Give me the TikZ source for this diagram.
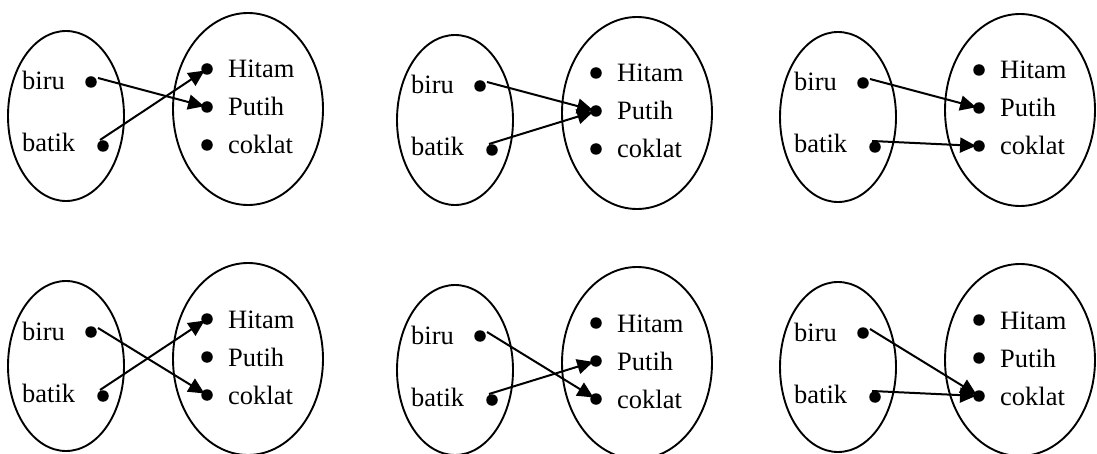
\documentclass[tikz,border=0pt]{standalone}
\usepackage{fontspec}
\setmainfont{Liberation Serif}
\usetikzlibrary{arrows.meta}

% One pair of sets: domain {biru, batik} and codomain {Hitam, Putih, coklat}.
% #1 = name prefix, #2/#3 = shift of the pair in pt
\newcommand\setpair[3]{%
  \begin{scope}[shift={(#2,#3)}]
    \draw[setline] (66,116) ellipse [x radius=58, y radius=85];
    \draw[setline] (248,109) ellipse [x radius=75, y radius=96];
    \node[lbl] (#1-tbiru)  at (22,90)  {biru};
    \node[lbl] (#1-tbatik) at (22,152) {batik};
    \node[elem] (#1-biru)  at (91,82)  {};
    \node[elem] (#1-batik) at (103,146) {};
    \coordinate (#1-bs) at (98,78);
    \coordinate (#1-ts) at (100,140);
    \node[elem] (#1-hit) at (207,69)  {};
    \node[elem] (#1-put) at (207,107) {};
    \node[elem] (#1-cok) at (207,145) {};
    \node[lbl] (#1-thit) at (228,78)  {Hitam};
    \node[lbl] (#1-tput) at (228,116) {Putih};
    \node[lbl] (#1-tcok) at (228,154) {coklat};
  \end{scope}}

\begin{document}
\begin{tikzpicture}[x=1pt, y=-1pt,
  setline/.style={draw, line width=1.9pt},
  elem/.style={circle, fill, inner sep=0pt, minimum size=11.5pt},
  lbl/.style={anchor=base west, inner sep=0pt, font=\fontsize{26.5}{31}\selectfont},
  map/.style={line width=2pt, -{Triangle[length=16pt, width=15pt]}, shorten >=-3pt}]
\useasboundingbox (0,0) rectangle (1097,454);

\setpair{a}{0}{0}
\setpair{b}{389}{4}
\setpair{c}{772}{1}
\setpair{d}{0}{250}
\setpair{e}{389}{254}
\setpair{f}{772}{251}

% top row
\draw[map] (a-bs) -- (a-put);
\draw[map] (a-ts) -- (a-hit);
\draw[map] (b-bs) -- (b-put);
\draw[map] (b-ts) -- (b-put);
\draw[map] (c-bs) -- (c-put);
\draw[map] (c-ts) -- (c-cok);
% bottom row
\draw[map] (d-bs) -- (d-cok);
\draw[map] (d-ts) -- (d-hit);
\draw[map] (e-bs) -- (e-cok);
\draw[map] (e-ts) -- (e-put);
\draw[map] (f-bs) -- (f-cok);
\draw[map] (f-ts) -- (f-cok);
\end{tikzpicture}
\end{document}
